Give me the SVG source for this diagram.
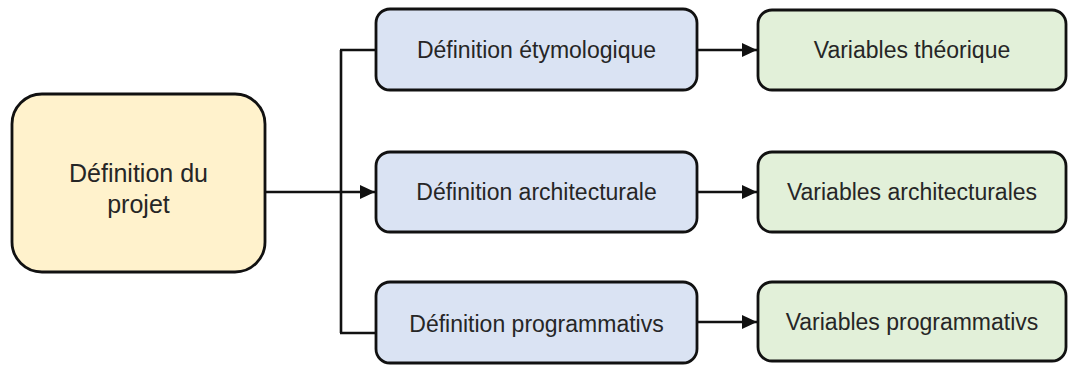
<svg xmlns="http://www.w3.org/2000/svg" width="1068" height="367" viewBox="0 0 1068 367">
  <style>
    .box { stroke: #111; stroke-width: 2.8; }
    .start { fill: #FFF2CC; }
    .def { fill: #DAE3F3; }
    .var { fill: #E2F0D9; }
    .lbl { font-family: "Liberation Sans", Arial, sans-serif; font-size: 23px; fill: #262626; text-anchor: middle; }
    .big { font-size: 25px; }
    .conn { stroke: #111; stroke-width: 2.6; fill: none; }
  </style>
  <defs>
    <marker id="arrow" markerUnits="userSpaceOnUse" markerWidth="16" markerHeight="14" refX="15" refY="7" orient="auto">
      <path d="M0,0 L15,7 L0,14 Z" fill="#111"/>
    </marker>
  </defs>
  <rect width="1068" height="367" fill="#ffffff"/>

  <g id="connectors">
    <line class="conn" x1="341" y1="50" x2="341" y2="333"/>
    <line class="conn" x1="340" y1="50" x2="377" y2="50"/>
    <line class="conn" x1="340" y1="333" x2="376" y2="333"/>
    <line class="conn" x1="265" y1="192" x2="375" y2="192" marker-end="url(#arrow)"/>
    <line class="conn" x1="697" y1="50" x2="757" y2="50" marker-end="url(#arrow)"/>
    <line class="conn" x1="697" y1="192" x2="757" y2="192" marker-end="url(#arrow)"/>
    <line class="conn" x1="697" y1="322" x2="757" y2="322" marker-end="url(#arrow)"/>
  </g>

  <g id="node-projet">
    <rect class="box start" x="12" y="94" width="253" height="178" rx="30"/>
    <text class="lbl big" x="138.5" y="182">Définition du</text>
    <text class="lbl big" x="138.5" y="213">projet</text>
  </g>

  <g id="node-def-etym">
    <rect class="box def" x="376" y="9" width="321" height="81" rx="14"/>
    <text class="lbl" x="536.5" y="58">Définition étymologique</text>
  </g>
  <g id="node-def-arch">
    <rect class="box def" x="376" y="152" width="321" height="80" rx="14"/>
    <text class="lbl" x="536.5" y="200">Définition architecturale</text>
  </g>
  <g id="node-def-prog">
    <rect class="box def" x="376" y="282" width="321" height="81" rx="14"/>
    <text class="lbl" x="536.5" y="332">Définition programmativs</text>
  </g>

  <g id="node-var-theo">
    <rect class="box var" x="758" y="10" width="308" height="80" rx="14"/>
    <text class="lbl" x="912" y="58">Variables théorique</text>
  </g>
  <g id="node-var-arch">
    <rect class="box var" x="758" y="152" width="308" height="80" rx="14"/>
    <text class="lbl" x="912" y="200">Variables architecturales</text>
  </g>
  <g id="node-var-prog">
    <rect class="box var" x="758" y="282" width="308" height="79" rx="14"/>
    <text class="lbl" x="912" y="330">Variables programmativs</text>
  </g>
</svg>
